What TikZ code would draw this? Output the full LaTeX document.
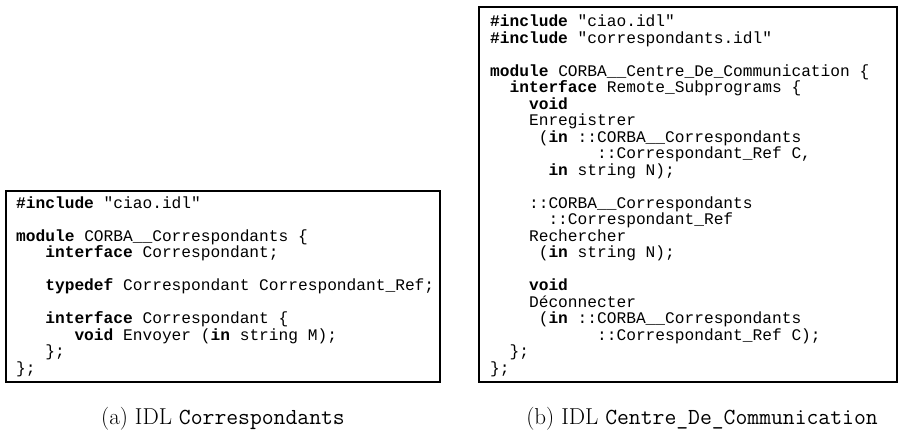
\documentclass[tikz,border=0pt]{standalone}
\usepackage{fontspec}
\newfontfamily\codefont{Liberation Mono}[Ligatures=TeXOff]
\newcommand\ind[1]{\hspace*{\dimexpr #1em*6/10\relax}}
\newcommand\kw[1]{\textbf{#1}}
\tikzset{
  listing/.style={draw=black, line width=2.5pt, inner sep=0pt, outer sep=0pt, anchor=north west},
  codeline/.style={anchor=base west, inner sep=0pt, font=\codefont\fontsize{16.2}{16.2}\selectfont},
  captionline/.style={anchor=base, inner sep=0pt, font=\fontsize{23}{25}\selectfont}
}
\begin{document}
\begin{tikzpicture}[x=1pt,y=1pt]
\useasboundingbox (0,0) rectangle (899,-437);

% frames of the two listings
\node[listing, minimum width=434pt, minimum height=191pt] (boxA) at (6,-191) {};
\node[listing, minimum width=418pt, minimum height=375pt] (boxB) at (479,-7) {};

% listing (a)
\foreach \t [count=\i] in {
  {\kw{\#include} "ciao.idl"},
  {},
  {\kw{module} CORBA\_\_Correspondants \{},
  {\ind{3}\kw{interface} Correspondant;},
  {},
  {\ind{3}\kw{typedef} Correspondant Correspondant\_Ref;},
  {},
  {\ind{3}\kw{interface} Correspondant \{},
  {\ind{6}\kw{void} Envoyer (\kw{in} string M);},
  {\ind{3}\};},
  {\};}
}{\node[codeline] (a\i) at (16,{-208-(\i-1)*16.5}) {\t};}

% listing (b)
\foreach \t [count=\i] in {
  {\kw{\#include} "ciao.idl"},
  {\kw{\#include} "correspondants.idl"},
  {},
  {\kw{module} CORBA\_\_Centre\_De\_Communication \{},
  {\ind{2}\kw{interface} Remote\_Subprograms \{},
  {\ind{4}\kw{void}},
  {\ind{4}Enregistrer},
  {\ind{5}(\kw{in} ::CORBA\_\_Correspondants},
  {\ind{11}::Correspondant\_Ref C,},
  {\ind{6}\kw{in} string N);},
  {},
  {\ind{4}::CORBA\_\_Correspondants},
  {\ind{6}::Correspondant\_Ref},
  {\ind{4}Rechercher},
  {\ind{5}(\kw{in} string N);},
  {},
  {\ind{4}\kw{void}},
  {\ind{4}Déconnecter},
  {\ind{5}(\kw{in} ::CORBA\_\_Correspondants},
  {\ind{11}::Correspondant\_Ref C);},
  {\ind{2}\};},
  {\};}
}{\node[codeline] (b\i) at (490,{-26.5-(\i-1)*16.5}) {\t};}

% captions
\node[captionline] (capA) at (223,-424) {(a) IDL \texttt{Correspondants}};
\node[captionline] (capB) at (702,-424) {(b) IDL \texttt{Centre\_De\_Communication}};
\end{tikzpicture}
\end{document}
